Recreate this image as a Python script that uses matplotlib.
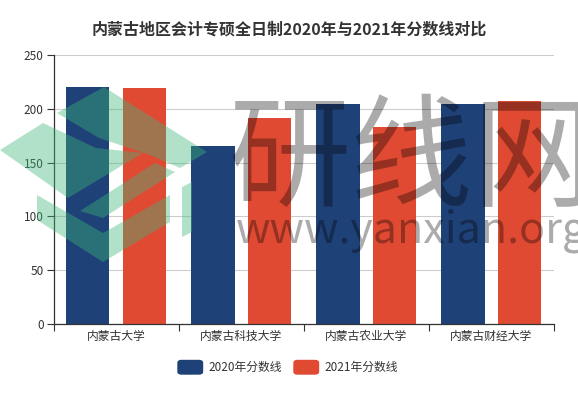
import numpy as np
import matplotlib
matplotlib.use("Agg")
import matplotlib.pyplot as plt
from matplotlib.patches import Polygon, FancyBboxPatch

plt.rcParams['font.family'] = ['Noto Sans CJK SC', 'DejaVu Sans']

# data
schools = ["内蒙古大学", "内蒙古科技大学", "内蒙古农业大学", "内蒙古财经大学"]
scores_2020 = [220, 165, 204, 204]
scores_2021 = [219, 191, 183, 207]
series_names = ["2020年分数线", "2021年分数线"]
y_ticks = [0, 50, 100, 150, 200, 250]

title = "内蒙古地区会计专硕全日制2020年与2021年分数线对比"
color_2020 = "#1e4177"
color_2021 = "#e04a33"

W, H = 578, 398
fig = plt.figure(figsize=(W / 100, H / 100), dpi=100)


def px(x, y):
    # pixel position (top-left origin) -> figure fraction
    return x / W, 1 - y / H


ax = fig.add_axes([53.5 / W, 1 - 324 / H, (554 - 53.5) / W, (324 - 55) / H])

x = np.arange(len(schools))
bw = 0.347
off = 0.226
ax.bar(x - off, scores_2020, bw, color=color_2020, zorder=2)
ax.bar(x + off, scores_2021, bw, color=color_2021, zorder=2)

ax.set_xlim(-0.5, len(schools) - 0.5)
ax.set_ylim(0, 250)
ax.set_yticks(y_ticks)
ax.yaxis.grid(True, color="#cccccc", linewidth=0.8, zorder=0)
ax.set_axisbelow(True)

# category ticks at the boundaries, labels in the middle
ax.set_xticks(np.arange(len(schools) + 1) - 0.5)
ax.set_xticklabels([])
ax.set_xticks(x, minor=True)
ax.set_xticklabels(schools, minor=True, fontsize=8.5, color="#333333")
ax.tick_params(axis="x", which="major", length=5, width=0.8, color="#333333")
ax.tick_params(axis="x", which="minor", length=0, pad=4)
ax.tick_params(axis="y", length=5, width=0.8, color="#333333",
               labelsize=8.5, labelcolor="#333333", pad=2)

for s in ["top", "right"]:
    ax.spines[s].set_visible(False)
for s in ["left", "bottom"]:
    ax.spines[s].set_color("#333333")
    ax.spines[s].set_linewidth(0.9)

fig.text(*px(289, 30), title, ha="center", va="center",
         fontsize=11.5, fontweight="bold", color="#333333")

# legend
for i, (name, col) in enumerate(zip(series_names, [color_2020, color_2021])):
    lx = 178 + i * 116
    x0, y0 = px(lx, 374)
    box = FancyBboxPatch((x0, y0), 24.5 / W, 13.5 / H,
                         boxstyle="round,pad=0,rounding_size=0.006",
                         transform=fig.transFigure, color=col, zorder=5)
    fig.patches.append(box)
    fig.text(*px(lx + 30, 367), name, ha="left", va="center",
             fontsize=8.5, color="#333333")

# watermark: green logo
logo = [
    [(57, 113), (104, 87), (207, 152), (180, 168), (150, 155), (99, 138)],
    [(0, 150), (43, 123), (96, 148), (143, 153), (68, 198)],
    [(80, 211), (155, 163), (175, 172), (103, 218)],
    [(37, 195), (103, 233), (170, 195), (170, 222), (103, 262), (37, 220)],
    [(182, 187), (192, 182), (192, 232), (182, 237)],
]
for pts in logo:
    poly = Polygon([px(a, b) for a, b in pts], closed=True,
                   transform=fig.transFigure, facecolor="#3cb878",
                   alpha=0.4, edgecolor="none", zorder=6)
    fig.patches.append(poly)

# watermark: grey text
fig.text(*px(228, 162), "研线网", ha="left", va="center", fontsize=88,
         fontweight="medium", color="black", alpha=0.33, zorder=6)
fig.text(*px(236, 231), "www.yanxian.org", ha="left", va="center",
         fontsize=31, color="black", alpha=0.33, zorder=6)

fig.savefig("out.png", dpi=100)
